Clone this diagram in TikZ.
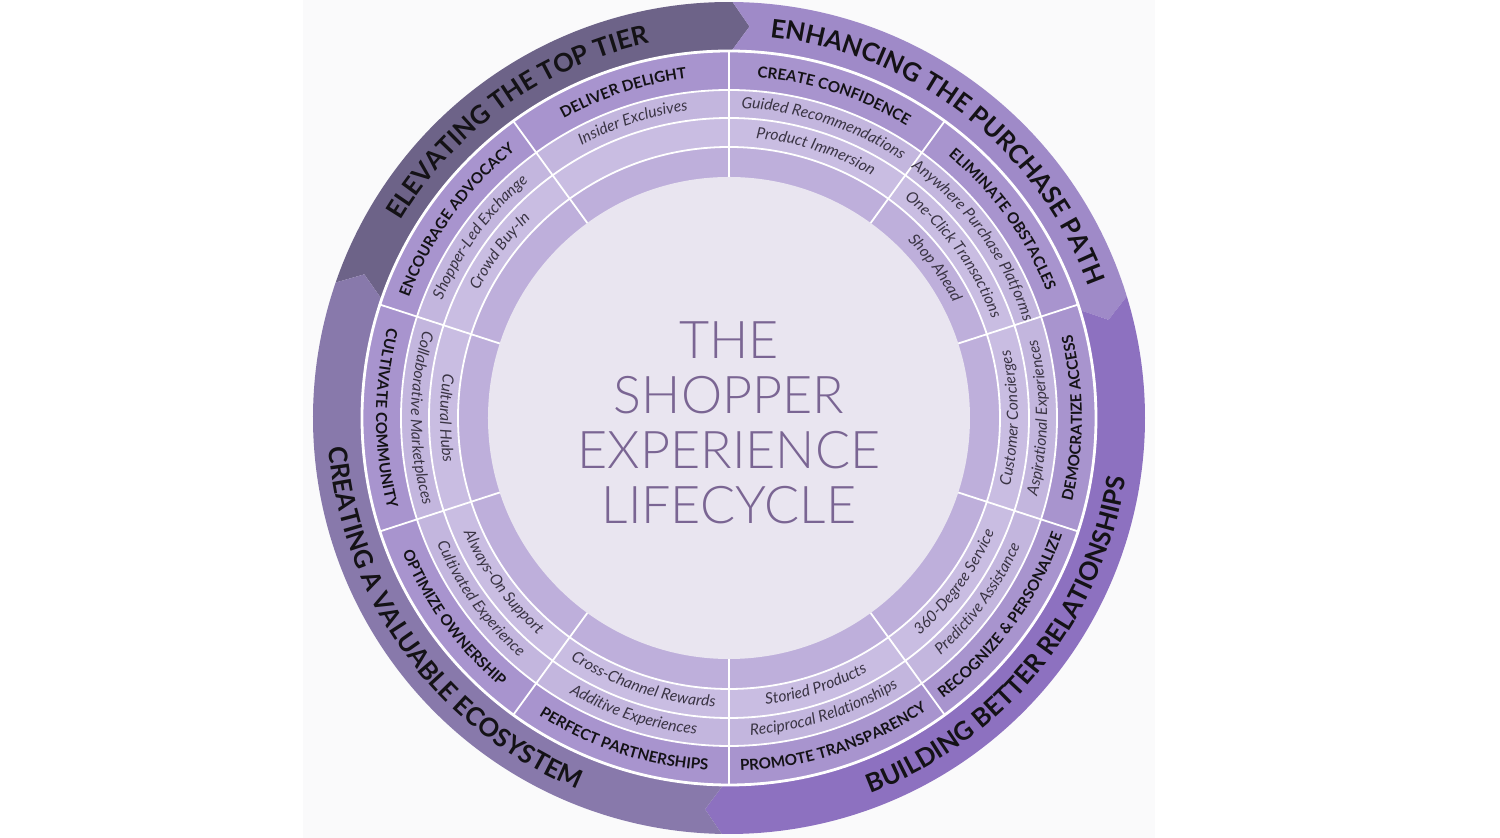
\documentclass[tikz,border=0pt]{standalone}
\usepackage{fontspec}
\setmainfont{Lato}
\newfontfamily\lightfont{Lato Light}
\usetikzlibrary{decorations.text}

\definecolor{elevate}{HTML}{6D6388}
\definecolor{enhance}{HTML}{9F8AC8}
\definecolor{build}{HTML}{8D71C0}
\definecolor{create}{HTML}{8879AB}
\definecolor{titlering}{HTML}{A894CE}
\definecolor{ringone}{HTML}{C3B6DE}
\definecolor{ringtwo}{HTML}{C9BDE2}
\definecolor{innerband}{HTML}{BEAFDB}
\definecolor{hub}{HTML}{E9E5F0}
\definecolor{hubink}{HTML}{7A6593}
\definecolor{ink}{HTML}{141216}
\definecolor{itemink}{HTML}{3A3444}
\definecolor{paper}{HTML}{FAFAFB}

\newcommand{\bandfont}{\color{ink}\bfseries\fontsize{12.8}{14}\selectfont}
\newcommand{\segfont}{\color{ink}\bfseries\fontsize{7.6}{9}\selectfont}
\newcommand{\itemfont}{\color{itemink}\itshape\fontsize{7.8}{9}\selectfont}

% text on an arc, read clockwise, letters pointing outwards
\newcommand{\cwlabel}[4]{%
  \pgfmathsetmacro\angA{#1+40}\pgfmathsetmacro\angB{#1-40}%
  \path[decorate,decoration={text along path,text align=center,text={|#3|#4}}]
    (\angA:#2) arc (\angA:\angB:#2);}
% text on an arc, read counterclockwise, letters pointing to the centre
\newcommand{\ccwlabel}[4]{%
  \pgfmathsetmacro\angA{#1-40}\pgfmathsetmacro\angB{#1+40}%
  \path[decorate,decoration={text along path,text align=center,text={|#3|#4}}]
    (\angA:#2) arc (\angA:\angB:#2);}
% one arrow of the outer band: colour, start angle, end angle (clockwise)
\newcommand{\bandpart}[3]{%
  \pgfmathsetmacro\tipA{#2-2.5}\pgfmathsetmacro\tipB{#3-2.5}%
  \fill[#1] (#2:416) arc (#2:#3:416) -- (\tipB:392) -- (#3:368)
    arc (#3:#2:368) -- (\tipA:392) -- cycle;}

\begin{document}
\begin{tikzpicture}[x=0.5pt,y=0.5pt]
    \useasboundingbox (-729,-420) rectangle (771,418);
    \fill[paper] (-426,-420) rectangle (426,418);

    % outer band
    \bandpart{elevate}{161}{89.5}
    \bandpart{enhance}{89.5}{17}
    \bandpart{build}{17}{-91}
    \bandpart{create}{269}{161}

    % rings
    \fill[titlering] (0,0) circle (367);
    \fill[ringone] (0,0) circle (328);
    \fill[ringtwo] (0,0) circle (300);
    \fill[innerband] (0,0) circle (271);
    \fill[hub] (0,0) circle (241);
    \draw[white,line width=1.4pt] (0,0) circle (367);
    \draw[white,line width=0.9pt] (0,0) circle (328) (0,0) circle (300) (0,0) circle (271);
    \foreach \a in {18,54,...,342}
        \draw[white,line width=0.9pt] (\a:241) -- (\a:367);

    \node[text=hubink,font=\lightfont\fontsize{26}{27.5}\selectfont,align=center] (lifecycle) at (0,-5)
        {THE\\SHOPPER\\EXPERIENCE\\LIFECYCLE};

    % band titles
    \cwlabel{125.5}{383}{\bandfont}{ELEVATING THE TOP TIER}
    \cwlabel{52}{383}{\bandfont}{ENHANCING THE PURCHASE PATH}
    \ccwlabel{-39}{401}{\bandfont}{BUILDING BETTER RELATIONSHIPS}
    \ccwlabel{216}{401}{\bandfont}{CREATING A VALUABLE ECOSYSTEM}

    % segment titles
    \cwlabel{108}{342}{\segfont}{DELIVER DELIGHT}
    \cwlabel{72}{342}{\segfont}{CREATE CONFIDENCE}
    \cwlabel{36}{342}{\segfont}{ELIMINATE OBSTACLES}
    \cwlabel{144}{342}{\segfont}{ENCOURAGE ADVOCACY}
    \ccwlabel{0}{353}{\segfont}{DEMOCRATIZE ACCESS}
    \ccwlabel{-36}{353}{\segfont}{RECOGNIZE {\&} PERSONALIZE}
    \ccwlabel{-72}{353}{\segfont}{PROMOTE TRANSPARENCY}
    \ccwlabel{-108}{353}{\segfont}{PERFECT PARTNERSHIPS}
    \ccwlabel{-144}{353}{\segfont}{OPTIMIZE OWNERSHIP}
    \ccwlabel{180}{353}{\segfont}{CULTIVATE COMMUNITY}

    % items
    \cwlabel{108}{310}{\itemfont}{Insider Exclusives}
    \cwlabel{72}{310}{\itemfont}{Guided Recommendations}
    \cwlabel{72}{281}{\itemfont}{Product Immersion}
    \cwlabel{36}{310}{\itemfont}{Anywhere Purchase Platforms}
    \cwlabel{36}{281}{\itemfont}{One-Click Transactions}
    \cwlabel{36}{252}{\itemfont}{Shop Ahead}
    \cwlabel{144}{310}{\itemfont}{Shopper-Led Exchange}
    \cwlabel{144}{281}{\itemfont}{Crowd Buy-In}
    \ccwlabel{0}{318}{\itemfont}{Aspirational Experiences}
    \ccwlabel{0}{289}{\itemfont}{Customer Concierges}
    \ccwlabel{-36}{318}{\itemfont}{Predictive Assistance}
    \ccwlabel{-36}{289}{\itemfont}{360-Degree Service}
    \ccwlabel{-72}{318}{\itemfont}{Reciprocal Relationships}
    \ccwlabel{-72}{289}{\itemfont}{Storied Products}
    \ccwlabel{-108}{318}{\itemfont}{Additive Experiences}
    \ccwlabel{-108}{289}{\itemfont}{Cross-Channel Rewards}
    \ccwlabel{-144}{318}{\itemfont}{Cultivated Experience}
    \ccwlabel{-144}{289}{\itemfont}{Always-On Support}
    \ccwlabel{180}{318}{\itemfont}{Collaborative Marketplaces}
    \ccwlabel{180}{289}{\itemfont}{Cultural Hubs}
\end{tikzpicture}
\end{document}
